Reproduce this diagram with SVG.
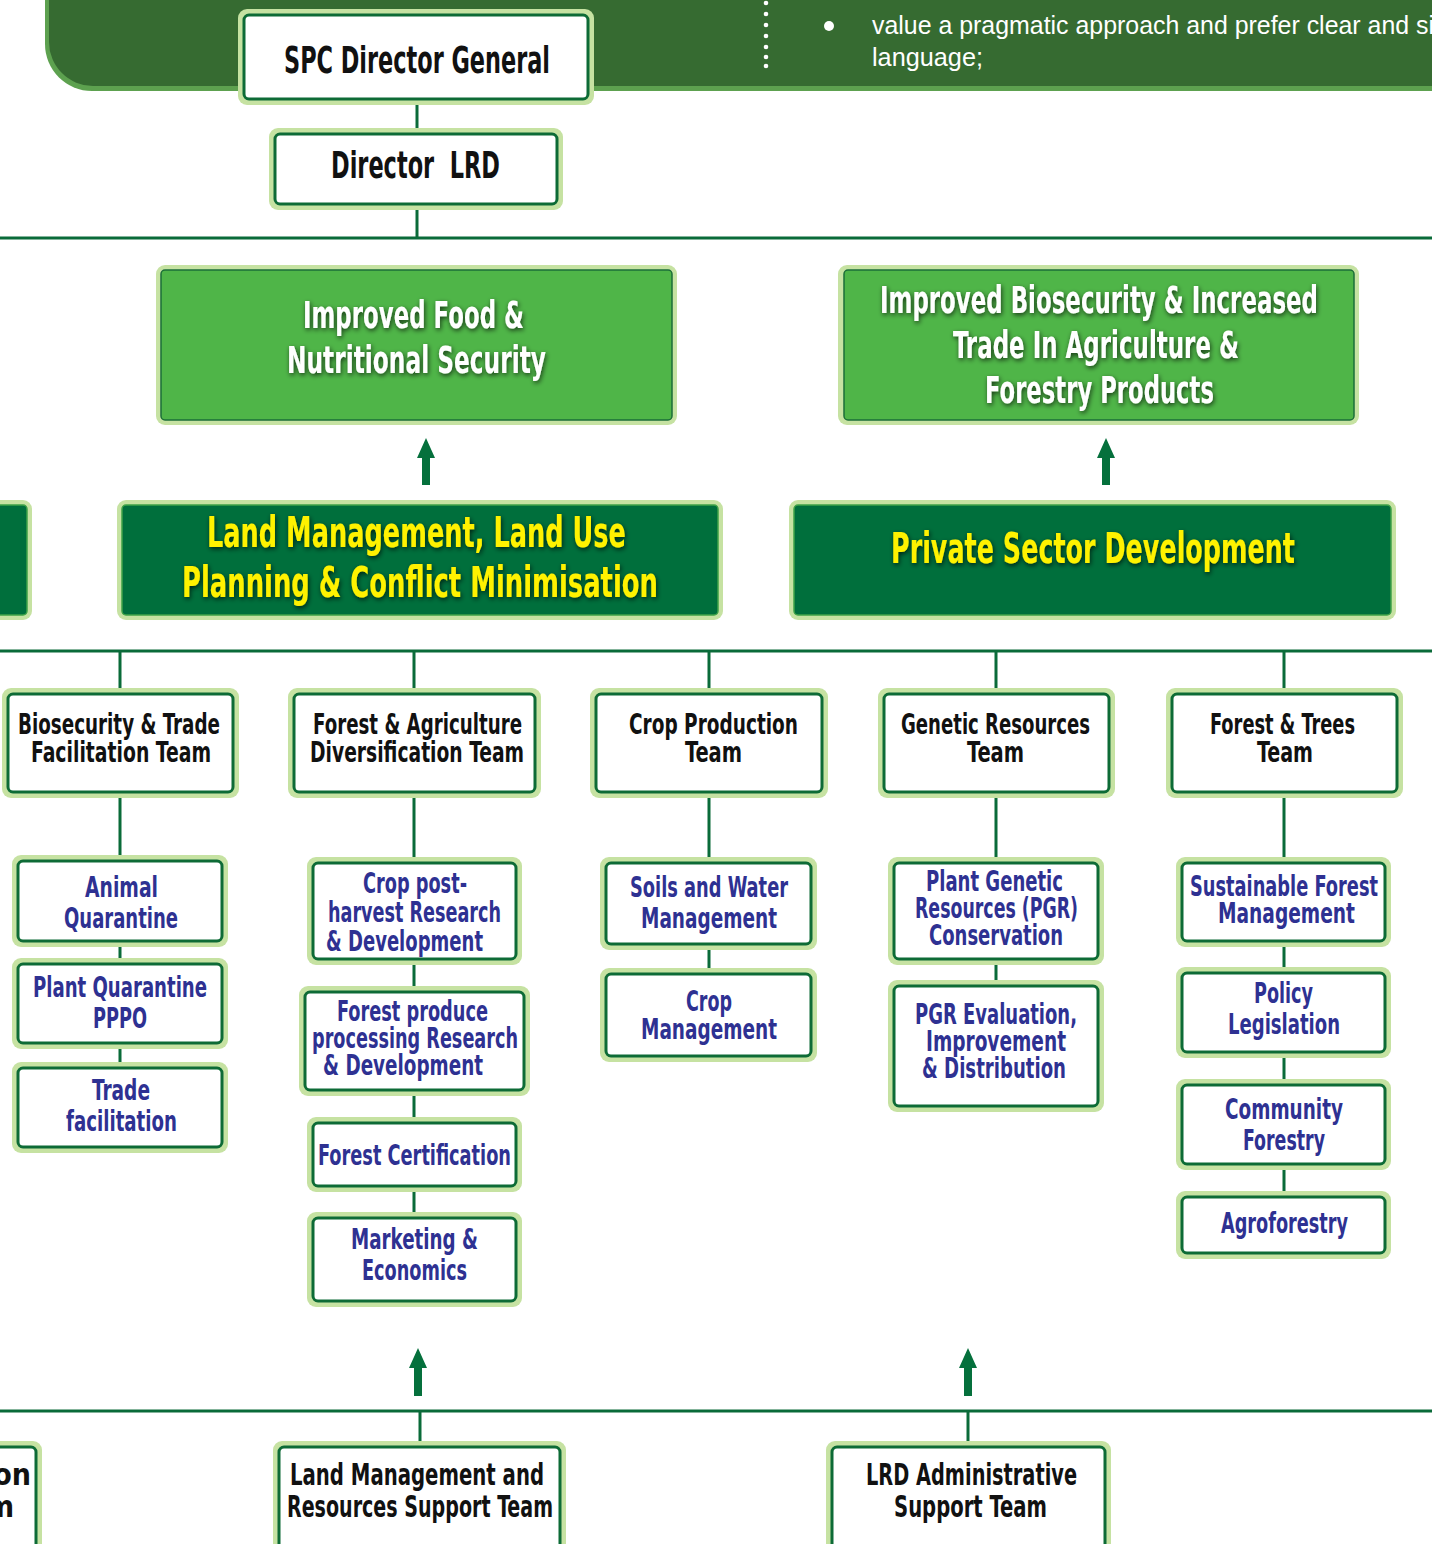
<svg xmlns="http://www.w3.org/2000/svg" width="1432" height="1544" viewBox="0 0 1432 1544">
<defs>
<style>
.t{font-family:"Liberation Sans Narrow","DejaVu Sans Condensed","Liberation Sans",sans-serif;font-weight:bold}
.blk{fill:#111111}
.blu{fill:#2e3192}
.wht{fill:#ffffff}
.yel{fill:#fff200}
.halo{fill:#c6e2a2}
.inner{fill:#ffffff;stroke:#0d6b36;stroke-width:3}
.goal{fill:#4fb548;stroke:#1b6e38;stroke-width:1.5}
.prog{fill:#006f3c;stroke:#3fa348;stroke-width:1.5}
.ln{stroke:#0a6b39;stroke-width:3;fill:none}
.arr{fill:#05703c}
</style>
<filter id="sh" x="-10%" y="-30%" width="120%" height="160%">
<feGaussianBlur in="SourceAlpha" stdDeviation="2.5" result="b"/>
<feOffset dx="1" dy="2" in="b" result="o"/>
<feComponentTransfer in="o" result="o2"><feFuncA type="linear" slope="0.7"/></feComponentTransfer>
<feMerge><feMergeNode in="o2"/><feMergeNode in="SourceGraphic"/></feMerge>
</filter>
</defs>

<g id="banner">
<path d="M45,0 H1432 V91 H92 A47,47 0 0 1 45,44 Z" fill="#5da14f"/>
<path d="M49,0 H1432 V86 H93 A44,44 0 0 1 49,42 Z" fill="#366b31"/>
<g fill="#ffffff">
<circle cx="766" cy="3" r="2.3"/><circle cx="766" cy="14" r="2.3"/><circle cx="766" cy="25" r="2.3"/><circle cx="766" cy="36" r="2.3"/><circle cx="766" cy="47" r="2.3"/><circle cx="766" cy="57" r="2.3"/><circle cx="766" cy="66" r="2.3"/>
<circle cx="829" cy="26" r="5"/>
</g>
<text x="872" y="34" font-family="'Liberation Sans Narrow','Liberation Sans',sans-serif" font-size="26" fill="#ffffff" textLength="562" lengthAdjust="spacingAndGlyphs">value a pragmatic approach and prefer clear and si</text>
<text x="872" y="66" font-family="'Liberation Sans Narrow','Liberation Sans',sans-serif" font-size="26" fill="#ffffff" textLength="111" lengthAdjust="spacingAndGlyphs">language;</text>
</g>

<g id="connectors">
<line class="ln" x1="417" y1="100" x2="417" y2="238"/>
<line class="ln" x1="0" y1="238" x2="1432" y2="238"/>
<line class="ln" x1="0" y1="651" x2="1432" y2="651"/>
<line class="ln" x1="120" y1="651" x2="120" y2="1065"/>
<line class="ln" x1="414" y1="651" x2="414" y2="1215"/>
<line class="ln" x1="709" y1="651" x2="709" y2="972"/>
<line class="ln" x1="996" y1="651" x2="996" y2="985"/>
<line class="ln" x1="1284" y1="651" x2="1284" y2="1195"/>
<line class="ln" x1="0" y1="1411" x2="1432" y2="1411"/>
<line class="ln" x1="420" y1="1411" x2="420" y2="1450"/>
<line class="ln" x1="968" y1="1411" x2="968" y2="1450"/>
<polygon class="arr" points="426,438 435,458 430,458 430,485 422,485 422,458 417,458"/>
<polygon class="arr" points="1106,438 1115,458 1110,458 1110,485 1102,485 1102,458 1097,458"/>
<polygon class="arr" points="418,1348 427,1368 422,1368 422,1396 414,1396 414,1368 409,1368"/>
<polygon class="arr" points="968,1348 977,1368 972,1368 972,1396 964,1396 964,1368 959,1368"/>
</g>

<g id="dg">
<rect class="halo" x="238" y="9" width="356" height="96" rx="9"/>
<rect class="inner" x="244" y="15" width="344" height="84" rx="5" stroke-width="2"/>
<text class="t blk" x="284" y="73" font-size="38" textLength="266" lengthAdjust="spacingAndGlyphs">SPC Director General</text>
</g>

<g id="dlrd">
<rect class="halo" x="269" y="128" width="294" height="82" rx="9"/>
<rect class="inner" x="275" y="134" width="282" height="70" rx="5" stroke-width="2"/>
<text class="t blk" x="331" y="178" font-size="38" textLength="169" lengthAdjust="spacingAndGlyphs" xml:space="preserve">Director  LRD</text>
</g>

<g id="goal-food">
<rect class="halo" x="156" y="265" width="521" height="160" rx="9"/>
<rect class="goal" x="161" y="270" width="511" height="150" rx="4"/>
<g filter="url(#sh)">
<text class="t wht" x="303" y="328" font-size="37" textLength="221" lengthAdjust="spacingAndGlyphs">Improved Food &amp;</text>
<text class="t wht" x="287" y="373" font-size="37" textLength="259" lengthAdjust="spacingAndGlyphs">Nutritional Security</text>
</g>
</g>

<g id="goal-bio">
<rect class="halo" x="838" y="265" width="521" height="160" rx="9"/>
<rect class="goal" x="844" y="270" width="510" height="150" rx="4"/>
<g filter="url(#sh)">
<text class="t wht" x="880" y="313" font-size="37" textLength="438" lengthAdjust="spacingAndGlyphs">Improved Biosecurity &amp; Increased</text>
<text class="t wht" x="953" y="358" font-size="37" textLength="286" lengthAdjust="spacingAndGlyphs">Trade In Agriculture &amp;</text>
<text class="t wht" x="985" y="403" font-size="37" textLength="229" lengthAdjust="spacingAndGlyphs">Forestry Products</text>
</g>
</g>

<g id="prog-left">
<rect class="halo" x="-20" y="500" width="52" height="120" rx="9"/>
<rect class="prog" x="-20" y="505" width="47" height="110" rx="4"/>
</g>

<g id="prog-land">
<rect class="halo" x="117" y="500" width="606" height="120" rx="9"/>
<rect class="prog" x="122" y="505" width="596" height="110" rx="4"/>
<g filter="url(#sh)">
<text class="t yel" x="207" y="547" font-size="42" textLength="419" lengthAdjust="spacingAndGlyphs">Land Management, Land Use</text>
<text class="t yel" x="182" y="597" font-size="42" textLength="476" lengthAdjust="spacingAndGlyphs">Planning &amp; Conflict Minimisation</text>
</g>
</g>

<g id="prog-private">
<rect class="halo" x="789" y="500" width="607" height="120" rx="9"/>
<rect class="prog" x="794" y="505" width="597" height="110" rx="4"/>
<g filter="url(#sh)">
<text class="t yel" x="891" y="563" font-size="42" textLength="404" lengthAdjust="spacingAndGlyphs">Private Sector Development</text>
</g>
</g>

<g id="team-bio">
<rect class="halo" x="2" y="688" width="237" height="110" rx="9"/>
<rect class="inner" x="8" y="694" width="225" height="98" rx="5"/>
<text class="t blk" x="18" y="734" font-size="29" textLength="202" lengthAdjust="spacingAndGlyphs">Biosecurity &amp; Trade</text>
<text class="t blk" x="31" y="762" font-size="29" textLength="180" lengthAdjust="spacingAndGlyphs">Facilitation Team</text>
</g>

<g id="team-forag">
<rect class="halo" x="288" y="688" width="253" height="110" rx="9"/>
<rect class="inner" x="294" y="694" width="241" height="98" rx="5"/>
<text class="t blk" x="313" y="734" font-size="29" textLength="209" lengthAdjust="spacingAndGlyphs">Forest &amp; Agriculture</text>
<text class="t blk" x="310" y="762" font-size="29" textLength="214" lengthAdjust="spacingAndGlyphs">Diversification Team</text>
</g>

<g id="team-crop">
<rect class="halo" x="590" y="688" width="238" height="110" rx="9"/>
<rect class="inner" x="596" y="694" width="226" height="98" rx="5"/>
<text class="t blk" x="629" y="734" font-size="29" textLength="169" lengthAdjust="spacingAndGlyphs">Crop Production</text>
<text class="t blk" x="685" y="762" font-size="29" textLength="57" lengthAdjust="spacingAndGlyphs">Team</text>
</g>

<g id="team-genetic">
<rect class="halo" x="878" y="688" width="237" height="110" rx="9"/>
<rect class="inner" x="884" y="694" width="225" height="98" rx="5"/>
<text class="t blk" x="901" y="734" font-size="29" textLength="189" lengthAdjust="spacingAndGlyphs">Genetic Resources</text>
<text class="t blk" x="967" y="762" font-size="29" textLength="57" lengthAdjust="spacingAndGlyphs">Team</text>
</g>

<g id="team-trees">
<rect class="halo" x="1166" y="688" width="237" height="110" rx="9"/>
<rect class="inner" x="1172" y="694" width="225" height="98" rx="5"/>
<text class="t blk" x="1210" y="734" font-size="29" textLength="145" lengthAdjust="spacingAndGlyphs">Forest &amp; Trees</text>
<text class="t blk" x="1257" y="762" font-size="29" textLength="56" lengthAdjust="spacingAndGlyphs">Team</text>
</g>

<g id="animal-quarantine">
<rect class="halo" x="12" y="855" width="216" height="92" rx="9"/>
<rect class="inner" x="18" y="861" width="204" height="80" rx="5"/>
<text class="t blu" x="85" y="897" font-size="28" textLength="73" lengthAdjust="spacingAndGlyphs">Animal</text>
<text class="t blu" x="64" y="928" font-size="28" textLength="114" lengthAdjust="spacingAndGlyphs">Quarantine</text>
</g>

<g id="plant-quarantine">
<rect class="halo" x="12" y="958" width="216" height="91" rx="9"/>
<rect class="inner" x="18" y="964" width="204" height="79" rx="5"/>
<text class="t blu" x="33" y="997" font-size="28" textLength="174" lengthAdjust="spacingAndGlyphs">Plant Quarantine</text>
<text class="t blu" x="93" y="1028" font-size="28" textLength="54" lengthAdjust="spacingAndGlyphs">PPPO</text>
</g>

<g id="trade-facilitation">
<rect class="halo" x="12" y="1062" width="216" height="91" rx="9"/>
<rect class="inner" x="18" y="1068" width="204" height="79" rx="5"/>
<text class="t blu" x="92" y="1100" font-size="28" textLength="58" lengthAdjust="spacingAndGlyphs">Trade</text>
<text class="t blu" x="66" y="1131" font-size="28" textLength="111" lengthAdjust="spacingAndGlyphs">facilitation</text>
</g>

<g id="crop-postharvest">
<rect class="halo" x="307" y="857" width="215" height="108" rx="9"/>
<rect class="inner" x="313" y="863" width="203" height="96" rx="5"/>
<text class="t blu" x="363" y="893" font-size="28" textLength="104" lengthAdjust="spacingAndGlyphs">Crop post-</text>
<text class="t blu" x="328" y="922" font-size="28" textLength="173" lengthAdjust="spacingAndGlyphs">harvest Research</text>
<text class="t blu" x="326" y="951" font-size="28" textLength="157" lengthAdjust="spacingAndGlyphs">&amp; Development</text>
</g>

<g id="forest-produce">
<rect class="halo" x="299" y="986" width="231" height="110" rx="9"/>
<rect class="inner" x="305" y="992" width="219" height="98" rx="5"/>
<text class="t blu" x="337" y="1021" font-size="28" textLength="151" lengthAdjust="spacingAndGlyphs">Forest produce</text>
<text class="t blu" x="312" y="1048" font-size="28" textLength="206" lengthAdjust="spacingAndGlyphs">processing Research</text>
<text class="t blu" x="323" y="1075" font-size="28" textLength="160" lengthAdjust="spacingAndGlyphs">&amp; Development</text>
</g>

<g id="forest-certification">
<rect class="halo" x="307" y="1117" width="215" height="75" rx="9"/>
<rect class="inner" x="313" y="1123" width="203" height="63" rx="5"/>
<text class="t blu" x="318" y="1165" font-size="28" textLength="193" lengthAdjust="spacingAndGlyphs">Forest Certification</text>
</g>

<g id="marketing-economics">
<rect class="halo" x="307" y="1212" width="215" height="95" rx="9"/>
<rect class="inner" x="313" y="1218" width="203" height="83" rx="5"/>
<text class="t blu" x="351" y="1249" font-size="28" textLength="127" lengthAdjust="spacingAndGlyphs">Marketing &amp;</text>
<text class="t blu" x="362" y="1280" font-size="28" textLength="105" lengthAdjust="spacingAndGlyphs">Economics</text>
</g>

<g id="soils-water">
<rect class="halo" x="600" y="857" width="217" height="93" rx="9"/>
<rect class="inner" x="606" y="863" width="205" height="81" rx="5"/>
<text class="t blu" x="630" y="897" font-size="28" textLength="158" lengthAdjust="spacingAndGlyphs">Soils and Water</text>
<text class="t blu" x="641" y="928" font-size="28" textLength="136" lengthAdjust="spacingAndGlyphs">Management</text>
</g>

<g id="crop-management">
<rect class="halo" x="600" y="968" width="217" height="94" rx="9"/>
<rect class="inner" x="606" y="974" width="205" height="82" rx="5"/>
<text class="t blu" x="686" y="1011" font-size="28" textLength="46" lengthAdjust="spacingAndGlyphs">Crop</text>
<text class="t blu" x="641" y="1039" font-size="28" textLength="136" lengthAdjust="spacingAndGlyphs">Management</text>
</g>

<g id="pgr-conservation">
<rect class="halo" x="888" y="857" width="216" height="108" rx="9"/>
<rect class="inner" x="894" y="863" width="204" height="96" rx="5"/>
<text class="t blu" x="926" y="891" font-size="28" textLength="137" lengthAdjust="spacingAndGlyphs">Plant Genetic</text>
<text class="t blu" x="915" y="918" font-size="28" textLength="163" lengthAdjust="spacingAndGlyphs">Resources (PGR)</text>
<text class="t blu" x="929" y="945" font-size="28" textLength="134" lengthAdjust="spacingAndGlyphs">Conservation</text>
</g>

<g id="pgr-evaluation">
<rect class="halo" x="888" y="980" width="216" height="132" rx="9"/>
<rect class="inner" x="894" y="986" width="204" height="120" rx="5"/>
<text class="t blu" x="915" y="1024" font-size="28" textLength="162" lengthAdjust="spacingAndGlyphs">PGR Evaluation,</text>
<text class="t blu" x="926" y="1051" font-size="28" textLength="140" lengthAdjust="spacingAndGlyphs">Improvement</text>
<text class="t blu" x="922" y="1078" font-size="28" textLength="144" lengthAdjust="spacingAndGlyphs">&amp; Distribution</text>
</g>

<g id="sustainable-forest">
<rect class="halo" x="1176" y="857" width="215" height="90" rx="9"/>
<rect class="inner" x="1182" y="863" width="203" height="78" rx="5"/>
<text class="t blu" x="1190" y="896" font-size="28" textLength="188" lengthAdjust="spacingAndGlyphs">Sustainable Forest</text>
<text class="t blu" x="1218" y="923" font-size="28" textLength="137" lengthAdjust="spacingAndGlyphs">Management</text>
</g>

<g id="policy-legislation">
<rect class="halo" x="1176" y="967" width="215" height="91" rx="9"/>
<rect class="inner" x="1182" y="973" width="203" height="79" rx="5"/>
<text class="t blu" x="1254" y="1003" font-size="28" textLength="59" lengthAdjust="spacingAndGlyphs">Policy</text>
<text class="t blu" x="1228" y="1034" font-size="28" textLength="112" lengthAdjust="spacingAndGlyphs">Legislation</text>
</g>

<g id="community-forestry">
<rect class="halo" x="1176" y="1079" width="215" height="91" rx="9"/>
<rect class="inner" x="1182" y="1085" width="203" height="79" rx="5"/>
<text class="t blu" x="1225" y="1119" font-size="28" textLength="118" lengthAdjust="spacingAndGlyphs">Community</text>
<text class="t blu" x="1243" y="1150" font-size="28" textLength="82" lengthAdjust="spacingAndGlyphs">Forestry</text>
</g>

<g id="agroforestry">
<rect class="halo" x="1176" y="1191" width="215" height="68" rx="9"/>
<rect class="inner" x="1182" y="1197" width="203" height="56" rx="5"/>
<text class="t blu" x="1221" y="1233" font-size="28" textLength="127" lengthAdjust="spacingAndGlyphs">Agroforestry</text>
</g>

<g id="support-left">
<rect class="halo" x="-20" y="1441" width="62" height="120" rx="9"/>
<rect class="inner" x="-20" y="1447" width="56" height="110" rx="5"/>
<text class="t blk" x="31" y="1485" font-size="30" text-anchor="end">ion</text>
<text class="t blk" x="14" y="1517" font-size="30" text-anchor="end">m</text>
</g>

<g id="support-land">
<rect class="halo" x="273" y="1441" width="293" height="120" rx="9"/>
<rect class="inner" x="279" y="1447" width="281" height="110" rx="5"/>
<text class="t blk" x="290" y="1485" font-size="30" textLength="254" lengthAdjust="spacingAndGlyphs">Land Management and</text>
<text class="t blk" x="287" y="1517" font-size="30" textLength="266" lengthAdjust="spacingAndGlyphs">Resources Support Team</text>
</g>

<g id="support-admin">
<rect class="halo" x="826" y="1441" width="285" height="120" rx="9"/>
<rect class="inner" x="832" y="1447" width="273" height="110" rx="5"/>
<text class="t blk" x="866" y="1485" font-size="30" textLength="211" lengthAdjust="spacingAndGlyphs">LRD Administrative</text>
<text class="t blk" x="894" y="1517" font-size="30" textLength="153" lengthAdjust="spacingAndGlyphs">Support Team</text>
</g>
</svg>
